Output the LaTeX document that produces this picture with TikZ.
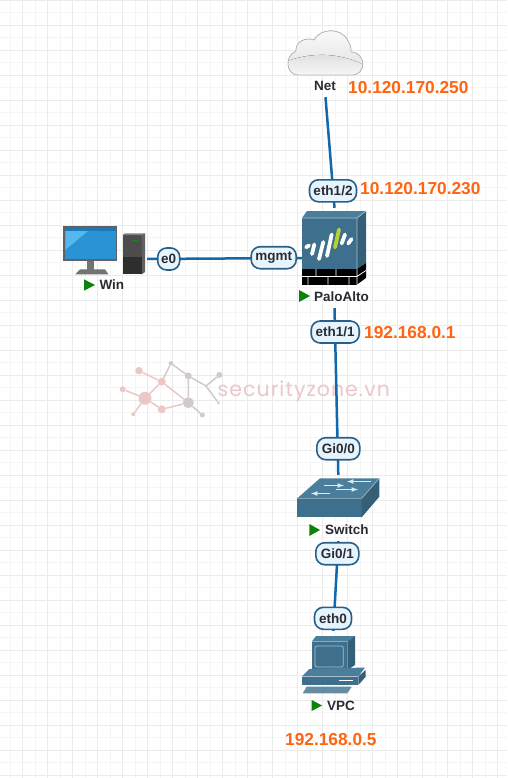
\documentclass[tikz,border=0pt]{standalone}
\usepackage{fontspec}
\setmainfont{Liberation Sans}
\newfontfamily\markfont[LetterSpace=5]{Poppins}
\definecolor{linkblue}{HTML}{0F69AC}
\definecolor{pillblue}{HTML}{E6F4FD}
\definecolor{pilledge}{HTML}{2B5F86}
\definecolor{ipcolor}{HTML}{FF6410}
\definecolor{devcolor}{HTML}{3E6F8C}
\definecolor{devlight}{HTML}{4B7E9B}
\definecolor{devedge}{HTML}{A9BFCC}
\definecolor{runcolor}{HTML}{0B830B}
\definecolor{inkcolor}{HTML}{2A2A33}
\definecolor{wmpink}{HTML}{EBC8C8}
\definecolor{wmgrey}{HTML}{D2CACA}
\definecolor{screenblue}{HTML}{2A93D5}
\definecolor{screentop}{HTML}{1E78B4}
\definecolor{screenshine}{HTML}{55B8EC}
\definecolor{logogreen}{HTML}{B5D334}
\tikzset{
  box/.style={inner sep=0pt},
  link/.style={linkblue, line width=2.5pt},
  pill/.style={draw=pilledge, line width=1.6pt, fill=pillblue, rounded corners=9pt, inner sep=0pt,
    minimum height=22pt, text=inkcolor, font=\bfseries\fontsize{13.5}{14}\selectfont},
  devname/.style={inner sep=0pt, anchor=west, text=inkcolor, font=\bfseries\fontsize{13.5}{14}\selectfont},
  ip/.style={inner sep=0pt, anchor=west, text=ipcolor, font=\bfseries\fontsize{17.3}{18}\selectfont},
  runmark/.style={fill=runcolor},
  wmdot/.style={circle, fill=wmpink, inner sep=0pt},
  wmdark/.style={circle, fill=wmgrey, inner sep=0pt},
  logobar/.style={white, line width=3.8pt, line cap=round},
}
\begin{document}
\begin{tikzpicture}[x=1pt,y=-1pt]
  \useasboundingbox (0,0) rectangle (507,778);
  \fill[white] (0,0) rectangle (507,778);
  % grid
  \foreach \x in {10.2,35.2,...,507} \draw[black!4, line width=1.3pt] (\x,0) -- (\x,778);
  \foreach \y in {12.7,37.7,...,778} \draw[black!4, line width=1.3pt] (0,\y) -- (507,\y);
  \foreach \x in {22.7,47.7,...,507} \draw[black!8, line width=1.3pt] (\x,0) -- (\x,778);
  \foreach \y in {0.2,25.2,...,778} \draw[black!8, line width=1.3pt] (0,\y) -- (507,\y);

  % watermark
  \node[wmdot, minimum size=7.5pt] (w1) at (139,370.7) {};
  \node[wmdot, minimum size=6pt] (w2) at (122.7,389.3) {};
  \node[wmdot, minimum size=13pt] (w3) at (145,398.3) {};
  \node[wmdot, minimum size=8pt] (w4) at (161.7,381.7) {};
  \node[wmdot, minimum size=8pt] (w5) at (161.7,409.3) {};
  \node[wmdot, minimum size=4pt] (w6) at (133.3,414.3) {};
  \node[wmdark, minimum size=4.5pt] (w7) at (171,363.3) {};
  \node[wmdark, minimum size=7pt] (w8) at (188.3,376) {};
  \node[wmdark, minimum size=11pt] (w9) at (188.3,402.7) {};
  \node[wmdark, minimum size=5pt] (w10) at (202.3,415) {};
  \node[wmdark, minimum size=6pt] (w11) at (219.3,375) {};
  \node[wmdark, minimum size=3pt] (w12) at (218.3,402.7) {};
  \coordinate (wj) at (206,386);
  \draw[wmpink, line width=1.5pt] (w1) -- (w4) -- (w3) -- (w2) (w3) -- (w5) -- (w9) (w3) -- (w6);
  \draw[wmpink, line width=1.5pt] (w4) -- (w9);
  \draw[wmgrey, line width=1.5pt] (w4) -- (w7) -- (w8) -- (wj) -- (w11) (wj) -- (w12) (w8) -- (w9) -- (w10);
  \node[box, anchor=west, text=wmpink, font=\markfont\fontsize{20.5}{21}\selectfont] (wmtext) at (217.5,391) {securityzone.vn};

  % devices
  \node[box, minimum width=75pt, minimum height=65pt] (net) at (325.5,64.5) {};
  \node[box, minimum width=84pt, minimum height=66pt] (win) at (105,259) {};
  \node[box, minimum width=64pt, minimum height=100pt] (palo) at (334.5,258) {};
  \node[box, minimum width=82pt, minimum height=66pt] (switch) at (338.3,508) {};
  \node[box, minimum width=66pt, minimum height=81pt] (vpc) at (333.3,671.5) {};

  % links
  \draw[link] (net.south) -- (palo.north);
  \draw[link] (win.east) -- (palo.west);
  \draw[link] (palo.south) -- (switch.north);
  \draw[link] (switch.south) -- (vpc.north);

  % cloud
  \begin{scope}
    \clip (298,75) .. controls (286,75) and (284,56) .. (296,51)
      .. controls (295,41) and (307,37) .. (314,40)
      .. controls (320,28) and (342,27) .. (348,41)
      .. controls (351,45) and (351,49) .. (351,52)
      .. controls (366,52) and (367,75) .. (352,75) -- cycle;
    \fill[top color=black!2, bottom color=black!9] (285,28) rectangle (366,62);
    \fill[top color=black!13, bottom color=black!2] (285,62) .. controls (310,52) and (340,52) .. (366,66)
      -- (366,78) -- (285,78) -- cycle;
  \end{scope}
  \draw[black!28, line width=.8pt] (298,75) .. controls (286,75) and (284,56) .. (296,51)
      .. controls (295,41) and (307,37) .. (314,40)
      .. controls (320,28) and (342,27) .. (348,41)
      .. controls (351,45) and (351,49) .. (351,52)
      .. controls (366,52) and (367,75) .. (352,75) -- cycle;

  % win
  \fill[black!62] (63.3,226) rectangle (117.3,261);
  \fill[black!55] (87.3,261) rectangle (94,270);
  \fill[black!55] (80,269.3) -- (105,269.3) -- (108.3,274.3) -- (75.3,274.3) -- cycle;
  \fill[screentop] (65.3,228) rectangle (115.5,231);
  \fill[screenblue] (65.3,231) rectangle (115.5,259);
  \fill[screenshine] (65.3,231) -- (88,231) -- (65.3,250) -- cycle;
  \fill[black!70] (122.7,235) rectangle (141.7,274.3);
  \fill[black!50] (122.7,235) -- (125,233.3) -- (145,233.3) -- (141.7,235) -- cycle;
  \fill[black!62] (141.7,235) -- (145,233.3) -- (145,272) -- (141.7,274.3) -- cycle;
  \fill[black!82] (122.7,256.7) rectangle (141.7,274.3);
  \draw[green!60!black, line width=.8pt] (133,240) -- (138,240);

  % palo alto
  \fill[devlight] (302,218) -- (307,211) -- (366,211) -- (357,218) -- cycle;
  \fill[devcolor!85!black] (357,218) -- (366,211) -- (366,263) -- (357,269) -- cycle;
  \fill[devcolor] (302,218) rectangle (357,269);
  \draw[devedge, line width=.7pt] (302,218) -- (357,218) -- (366,211) (357,218) -- (357,269);
  \fill[black] (302,269) rectangle (357,284.5);
  \fill[black] (357,269) -- (366,263) -- (366,278) -- (357,284.5) -- cycle;
  \draw[white, line width=.8pt] (302,276.5) -- (357,276.5) -- (366,270.5)
    (316,269) -- (316,276.5) (336,269) -- (336,276.5) (308,276.5) -- (308,284.5) (328,276.5) -- (328,284.5)
    (349,276.5) -- (349,284.5) (357,269) -- (357,284.5);
  \draw[logobar] (306,247.3) -- (309,245.5);
  \draw[logobar] (312,254) -- (314.3,244.5);
  \draw[logobar] (319,259) -- (323.3,242);
  \draw[logobar] (327,256) -- (331.7,234.5);
  \draw[logobar, logogreen] (335,247.5) -- (339,229.5);
  \draw[logobar] (341.7,243.5) -- (345,234.5);
  \draw[logobar] (348.3,243.5) -- (351.5,239);

  % switch
  \fill[devlight] (297.3,498.3) -- (320,478.3) -- (379.3,478.3) -- (361.7,498.3) -- cycle;
  \fill[devcolor] (297.3,498.3) rectangle (361.7,517.3);
  \fill[devcolor!85!black] (361.7,498.3) -- (379.3,478.3) -- (379.3,496.7) -- (361.7,517.3) -- cycle;
  \draw[devedge, line width=.6pt] (297.3,498.3) -- (361.7,498.3) -- (379.3,478.3);
  \draw[white!85!devcolor, line width=1.2pt, -latex] (324,485.5) -- (344,485.5);
  \draw[white!85!devcolor, line width=1.2pt, -latex] (371,481.5) -- (347,481.5);
  \draw[white!85!devcolor, line width=1.2pt, -latex] (336,489.5) -- (358,489.5);
  \draw[white!85!devcolor, line width=1.2pt, -latex] (330,493.5) -- (311,493.5);

  % vpc
  \fill[devlight] (311.7,641.7) -- (316,636) -- (355,636) -- (347.3,641.7) -- cycle;
  \fill[devcolor!85!black] (347.3,641.7) -- (355,636) -- (355,665) -- (347.3,670) -- cycle;
  \fill[devcolor] (311.7,641.7) rectangle (347.3,670);
  \draw[devedge, line width=.7pt, rounded corners=2pt] (315,646) rectangle (343.3,667);
  \fill[devlight] (301.7,676.7) -- (309.3,669) -- (365,667.5) -- (358.3,676.7) -- cycle;
  \fill[devcolor] (301.7,676.7) rectangle (358.3,685);
  \fill[devcolor!85!black] (358.3,676.7) -- (365.5,670) -- (365.5,677) -- (358.3,685) -- cycle;
  \draw[devedge, line width=.6pt] (301.7,676.7) -- (358.3,676.7);
  \draw[white, line width=1pt] (339,680) -- (353,680);
  \fill[devcolor!80!white] (306.7,686.7) -- (351.7,686.7) -- (347.3,693.3) -- (302.7,693.3) -- cycle;

  % names
  \node[devname] (netname) at (314,86) {Net};
  \fill[runmark] (84,279.3) -- (95,285) -- (84,290.7) -- cycle;
  \node[devname] (winname) at (99.3,285) {Win};
  \fill[runmark] (299,290) -- (310,296) -- (299,302) -- cycle;
  \node[devname] (paloname) at (314,297) {PaloAlto};
  \fill[runmark] (309.3,524) -- (320,530) -- (309.3,536) -- cycle;
  \node[devname] (switchname) at (325,530) {Switch};
  \fill[runmark] (311.7,700) -- (322,705.5) -- (311.7,711) -- cycle;
  \node[devname] (vpcname) at (327,706) {VPC};

  % interfaces
  \node[pill, minimum width=47pt] (eth12) at (333,190.8) {eth1/2};
  \node[pill, minimum width=48pt] (eth11) at (335.2,332) {eth1/1};
  \node[pill, minimum width=45pt] (mgmt) at (273.7,257.7) {mgmt};
  \node[pill, minimum width=22pt] (e0) at (168.7,259) {e0};
  \node[pill, minimum width=43pt] (gi00) at (338.3,448.7) {Gi0/0};
  \node[pill, minimum width=43pt] (gi01) at (337.3,553.7) {Gi0/1};
  \node[pill, minimum width=37pt] (eth0) at (333,618.3) {eth0};

  % addresses
  \node[ip] (ipnet) at (348,88) {10.120.170.250};
  \node[ip] (ipwan) at (360,189) {10.120.170.230};
  \node[ip] (iplan) at (364,333) {192.168.0.1};
  \node[ip] (ipvpc) at (285,740) {192.168.0.5};
\end{tikzpicture}
\end{document}
